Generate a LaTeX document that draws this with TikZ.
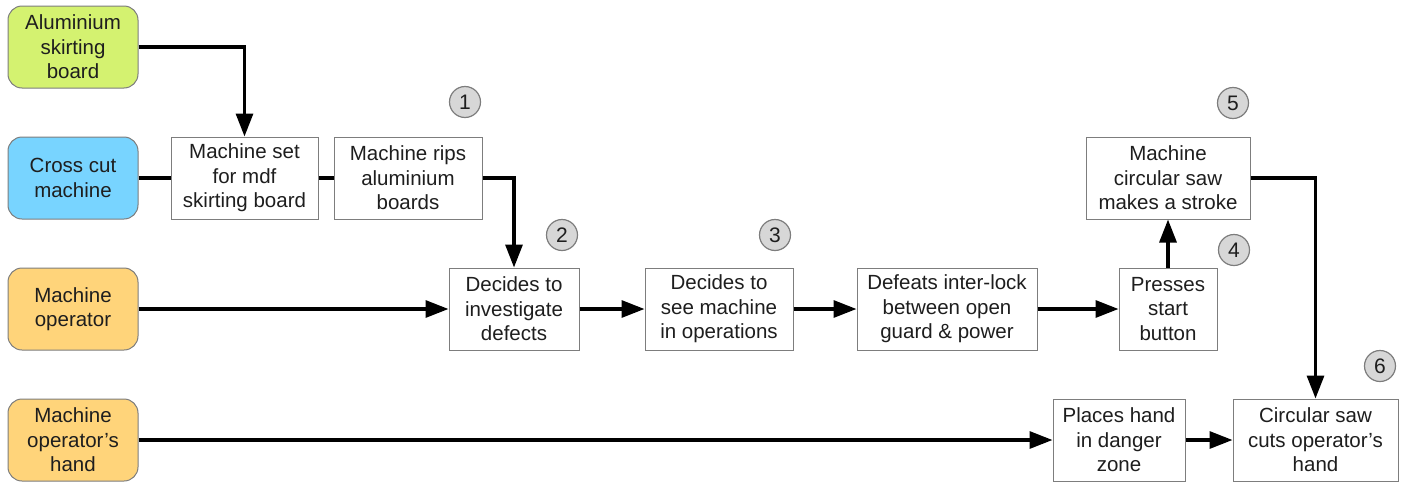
\documentclass[tikz,border=0pt]{standalone}
\usepackage{fontspec}
\setmainfont{Liberation Sans}
\usetikzlibrary{arrows.meta}
\definecolor{gline}{RGB}{125,125,125}
\definecolor{tcol}{RGB}{30,30,30}
\definecolor{cgreen}{RGB}{212,242,112}
\definecolor{cblue}{RGB}{120,212,255}
\definecolor{corange}{RGB}{255,212,122}
\definecolor{cgray}{RGB}{215,215,215}
\begin{document}
\begin{tikzpicture}[x=1pt,y=-1pt,
  every node/.style={font=\fontsize{20.5}{24.5}\selectfont, text=tcol, align=center, inner sep=0pt},
  actor/.style={draw=gline, line width=1pt, rounded corners=14pt, minimum width=130pt, minimum height=82pt},
  evbox/.style={draw=gline, fill=white, line width=1pt, minimum height=82pt},
  num/.style={circle, draw=gline, fill=cgray, line width=1.2pt, minimum size=31pt, font=\fontsize{21}{24}\selectfont},
  link/.style={line width=3.2pt, draw=black},
  arr/.style={link, -{Triangle[length=23pt,width=17pt]}}]
\useasboundingbox (0,0) rectangle (1402,482);
% actors
\node[actor, fill=cgreen] (alu) at (73,47) {Aluminium\\skirting\\board};
\node[actor, fill=cblue] (cross) at (73,178) {Cross cut\\machine};
\node[actor, fill=corange] (oper) at (73,309) {Machine\\operator};
\node[actor, fill=corange] (hand) at (73,440) {Machine\\operator’s\\hand};
% events
\node[evbox, minimum width=147pt] (set) at (244.5,178) {Machine set\\for mdf\\skirting board};
\node[evbox, minimum width=148pt] (rips) at (408,178) {Machine rips\\aluminium\\boards};
\node[evbox, minimum width=130pt] (inv) at (514,309) {Decides to\\investigate\\defects};
\node[evbox, minimum width=148pt] (see) at (719,309) {Decides to\\see machine\\in operations};
\node[evbox, minimum width=180pt] (def) at (947,309) {Defeats inter-lock\\between open\\guard \& power};
\node[evbox, minimum width=98pt] (press) at (1168,309) {Presses\\start\\button};
\node[evbox, minimum width=164pt] (stroke) at (1168,178) {Machine\\circular saw\\makes a stroke};
\node[evbox, minimum width=132pt] (place) at (1119,440) {Places hand\\in danger\\zone};
\node[evbox, minimum width=165pt] (cuts) at (1315.5,440) {Circular saw\\cuts operator’s\\hand};
% numbers
\node[num] (n1) at (465,102) {1};
\node[num] (n2) at (562,235) {2};
\node[num] (n3) at (775,235) {3};
\node[num] (n4) at (1234,250) {4};
\node[num] (n5) at (1233,103) {5};
\node[num] (n6) at (1380,366) {6};
% connectors
\draw[arr] (alu.east) -| (set.north);
\draw[link] (cross.east) -- (set.west);
\draw[link] (set.east) -- (rips.west);
\draw[arr] (rips.east) -| (inv.north);
\draw[arr] (oper.east) -- (inv.west);
\draw[arr] (inv.east) -- (see.west);
\draw[arr] (see.east) -- (def.west);
\draw[arr] (def.east) -- (press.west);
\draw[arr] (press.north) -- (stroke.south);
\draw[arr] (stroke.east) -| (cuts.north);
\draw[arr] (hand.east) -- (place.west);
\draw[arr] (place.east) -- (cuts.west);
\end{tikzpicture}
\end{document}
